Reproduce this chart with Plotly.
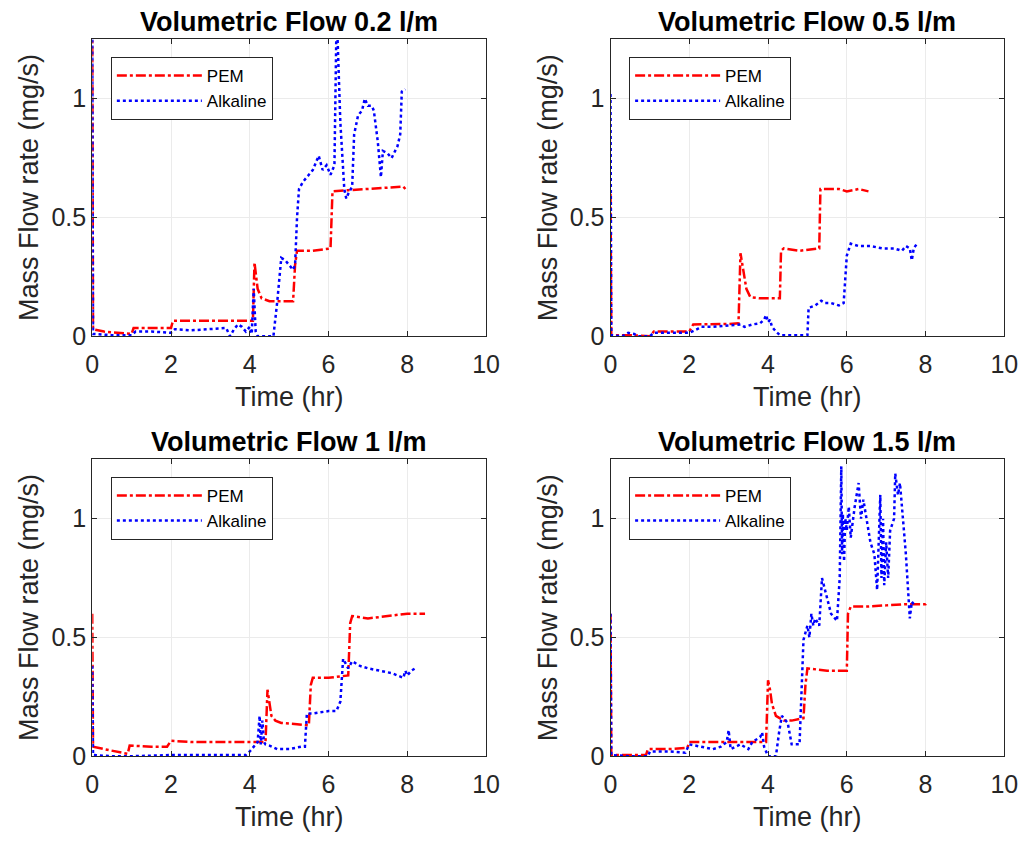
import plotly.graph_objects as go

# ---------------- data ----------------
titles = ["Volumetric Flow 0.2 l/m", "Volumetric Flow 0.5 l/m",
          "Volumetric Flow 1 l/m", "Volumetric Flow 1.5 l/m"]
series_names = ["PEM", "Alkaline"]
x_ticks = [0, 2, 4, 6, 8, 10]
y_ticks = [0, 0.5, 1]
y_tick_labels = ["0", "0.5", "1"]

# 0.2 l/m
t_pem_02 = [0, 0.02, 0.3, 0.6, 1.0, 1.05, 1.5, 2.0, 2.05, 3.0, 4.08, 4.12, 4.15, 4.2, 4.3, 4.5,
            5.1, 5.15, 5.2, 5.6, 6.05, 6.1, 6.5, 7.0, 7.5, 7.9, 7.95]
y_pem_02 = [1.3, 0.03, 0.02, 0.015, 0.01, 0.035, 0.035, 0.035, 0.066, 0.066, 0.066, 0.31, 0.27, 0.2,
            0.16, 0.148, 0.148, 0.3, 0.36, 0.36, 0.37, 0.61, 0.615, 0.62, 0.625, 0.63, 0.62]
t_alk_02 = [0, 0.02, 0.5, 1.0, 1.1, 1.5, 2.0, 2.1, 2.5, 3.0, 3.4, 3.5, 3.6, 3.7, 3.8, 3.9, 4.0,
            4.05, 4.1, 4.15, 4.2, 4.6, 4.7, 4.8, 4.9, 5.0, 5.1, 5.15, 5.2, 5.25, 5.35, 5.5, 5.6,
            5.7, 5.75, 5.85, 5.95, 6.05, 6.15, 6.2, 6.22, 6.3, 6.4, 6.45, 6.5, 6.6, 6.65, 6.75,
            6.85, 6.92, 7.0, 7.1, 7.15, 7.25, 7.33, 7.38, 7.5, 7.6, 7.75, 7.82, 7.86, 7.95]
y_alk_02 = [1.3, 0.01, 0.005, 0.005, 0.02, 0.02, 0.015, 0.03, 0.025, 0.03, 0.035, 0.0, 0.03, 0.05,
            0.04, 0.02, 0.04, 0.01, 0.2, 0.02, 0.0, 0.0, 0.15, 0.33, 0.32, 0.3, 0.28, 0.3, 0.5,
            0.62, 0.65, 0.68, 0.7, 0.74, 0.76, 0.7, 0.72, 0.68, 0.72, 1.3, 1.3, 0.9, 0.62, 0.58,
            0.6, 0.63, 0.85, 0.93, 0.95, 1.0, 0.97, 0.97, 0.95, 0.82, 0.67, 0.78, 0.77, 0.75, 0.8,
            0.85, 1.03, 1.04]

# 0.5 l/m
t_pem_05 = [0, 0.02, 0.5, 1.0, 1.1, 1.5, 2.0, 2.1, 2.5, 3.0, 3.25, 3.3, 3.35, 3.45, 3.55, 3.8,
            4.3, 4.33, 4.4, 4.8, 5.3, 5.33, 5.4, 5.8, 6.0, 6.3, 6.55]
y_pem_05 = [0.6, 0.005, 0.005, 0.0, 0.02, 0.02, 0.02, 0.05, 0.05, 0.052, 0.055, 0.35, 0.3, 0.2,
            0.165, 0.16, 0.16, 0.36, 0.37, 0.36, 0.37, 0.62, 0.62, 0.62, 0.61, 0.62, 0.61]
t_alk_05 = [0, 0.02, 0.3, 0.45, 0.6, 0.7, 1.0, 1.1, 1.5, 2.0, 2.2, 2.3, 2.6, 3.0, 3.3, 3.4, 3.6,
            3.8, 3.9, 3.95, 4.0, 4.05, 4.1, 4.2, 4.3, 4.6, 5.0, 5.03, 5.2, 5.35, 5.45, 5.6, 5.8,
            5.92, 6.0, 6.1, 6.3, 6.6, 6.9, 7.2, 7.4, 7.5, 7.6, 7.65, 7.7, 7.78]
y_alk_05 = [1.02, 0.005, 0.0, 0.015, 0.01, 0.0, 0.0, 0.015, 0.015, 0.015, 0.03, 0.04, 0.04, 0.045,
            0.05, 0.04, 0.05, 0.055, 0.07, 0.09, 0.06, 0.07, 0.04, 0.02, 0.005, 0.005, 0.005,
            0.12, 0.13, 0.15, 0.14, 0.14, 0.13, 0.14, 0.34, 0.39, 0.38, 0.38, 0.37, 0.37, 0.36,
            0.38, 0.37, 0.32, 0.37, 0.39]

# 1 l/m
t_pem_1 = [0, 0.02, 0.3, 0.6, 0.9, 0.95, 1.5, 1.9, 2.0, 2.5, 3.0, 4.4, 4.45, 4.5, 4.55, 4.65,
           4.8, 5.2, 5.5, 5.55, 5.6, 6.0, 6.5, 6.55, 6.6, 7.0, 7.5, 8.0, 8.45]
y_pem_1 = [0.6, 0.04, 0.03, 0.02, 0.01, 0.045, 0.04, 0.04, 0.065, 0.06, 0.06, 0.06, 0.28, 0.22,
           0.17, 0.15, 0.14, 0.135, 0.13, 0.3, 0.33, 0.33, 0.34, 0.56, 0.59, 0.58, 0.59, 0.6, 0.6]
t_alk_1 = [0, 0.02, 0.5, 1.0, 2.0, 3.0, 3.9, 4.0, 4.1, 4.2, 4.25, 4.28, 4.32, 4.36, 4.4, 4.5,
           4.7, 5.0, 5.3, 5.4, 5.45, 5.6, 6.0, 6.2, 6.3, 6.37, 6.5, 6.6, 6.8, 7.0, 7.3, 7.6, 7.9,
           7.95, 8.0, 8.1, 8.2]
y_alk_1 = [0.38, 0.005, 0.0, 0.0, 0.005, 0.005, 0.005, 0.02, 0.04, 0.06, 0.17, 0.05, 0.15, 0.06,
           0.05, 0.045, 0.03, 0.03, 0.04, 0.04, 0.18, 0.18, 0.19, 0.19, 0.23, 0.41, 0.37, 0.4,
           0.38, 0.37, 0.36, 0.35, 0.33, 0.36, 0.34, 0.36, 0.37]

# 1.5 l/m
t_pem_15 = [0, 0.02, 0.5, 0.9, 0.95, 1.5, 1.95, 2.0, 3.0, 3.95, 4.0, 4.05, 4.1, 4.2, 4.4, 4.6,
            4.9, 4.95, 5.0, 5.5, 6.0, 6.03, 6.1, 6.5, 7.0, 7.5, 8.0, 8.05]
y_pem_15 = [0.6, 0.005, 0.005, 0.005, 0.03, 0.03, 0.035, 0.06, 0.06, 0.06, 0.32, 0.28, 0.22,
            0.17, 0.15, 0.15, 0.16, 0.3, 0.37, 0.36, 0.36, 0.6, 0.63, 0.63, 0.635, 0.64, 0.64, 0.65]
t_alk_15 = [0, 0.02, 0.5, 0.95, 1.0, 1.5, 1.9, 2.0, 2.3, 2.6, 2.8, 2.95, 3.0, 3.05, 3.3, 3.5,
            3.6, 3.8, 3.85, 3.9, 4.0, 4.2, 4.28, 4.35, 4.5, 4.6, 4.8, 4.85, 4.9, 5.0, 5.05, 5.1,
            5.15, 5.2, 5.3, 5.37, 5.45, 5.6, 5.75, 5.82, 5.86, 5.88, 5.9, 5.93, 5.96, 6.0, 6.05,
            6.1, 6.2, 6.3, 6.36, 6.42, 6.5, 6.6, 6.7, 6.77, 6.8, 6.85, 6.88, 6.92, 6.95, 7.0,
            7.05, 7.1, 7.2, 7.23, 7.3, 7.35, 7.5, 7.6, 7.65, 7.7]
y_alk_15 = [0.6, 0.005, 0.0, 0.0, 0.02, 0.02, 0.015, 0.05, 0.04, 0.03, 0.04, 0.06, 0.11, 0.03,
            0.05, 0.03, 0.06, 0.08, 0.1, 0.04, 0.0, 0.0, 0.1, 0.17, 0.14, 0.05, 0.05, 0.3, 0.49,
            0.55, 0.5, 0.6, 0.55, 0.58, 0.55, 0.75, 0.7, 0.6, 0.57, 0.75, 1.22, 0.85, 1.02, 0.82,
            1.0, 0.95, 1.05, 0.92, 1.05, 1.15, 1.0, 1.08, 1.0, 0.9, 0.85, 0.7, 0.85, 1.1, 0.75,
            1.0, 0.72, 0.9, 0.75, 0.95, 1.0, 1.19, 1.1, 1.15, 0.85, 0.58, 0.65, 0.64]

panels = [
    (t_pem_02, y_pem_02, t_alk_02, y_alk_02),
    (t_pem_05, y_pem_05, t_alk_05, y_alk_05),
    (t_pem_1, y_pem_1, t_alk_1, y_alk_1),
    (t_pem_15, y_pem_15, t_alk_15, y_alk_15),
]

# ---------------- layout geometry ----------------
W, H = 1035, 844
x_doms = [(87 / W, 489 / W), (616 / W, 1018 / W)]
y_doms = [(1 - 342 / H, 1 - 40 / H), (1 - 769 / H, 1 - 467 / H)]
FONT = "Liberation Sans, Arial, Helvetica, sans-serif"
INK = "#262626"

fig = go.Figure()
annotations = []
layout = dict(width=W, height=H, margin=dict(l=0, r=0, t=0, b=0),
              paper_bgcolor="white", plot_bgcolor="white",
              font=dict(family=FONT, color=INK), showlegend=True)

for i, (tp, yp, ta, ya) in enumerate(panels):
    r, c = divmod(i, 2)
    n = i + 1
    xa = "x" if n == 1 else f"x{n}"
    ya_ = "y" if n == 1 else f"y{n}"
    lg = "legend" if n == 1 else f"legend{n}"
    fig.add_trace(go.Scatter(x=tp, y=yp, mode="lines", name=series_names[0],
                             line=dict(color="#ff0000", width=2.5, dash="10px,3px,3px,3px"),
                             xaxis=xa, yaxis=ya_, legend=lg))
    fig.add_trace(go.Scatter(x=ta, y=ya, mode="lines", name=series_names[1],
                             line=dict(color="#0000ff", width=2.5, dash="dot"),
                             xaxis=xa, yaxis=ya_, legend=lg))
    axcommon = dict(showline=True, linecolor=INK, linewidth=1, mirror="ticks",
                    ticks="inside", ticklen=5, tickcolor=INK, showgrid=True,
                    gridcolor="#ebebeb", gridwidth=1, zeroline=False,
                    tickfont=dict(size=25, family=FONT, color=INK))
    layout["xaxis" if n == 1 else f"xaxis{n}"] = dict(
        axcommon, domain=list(x_doms[c]), range=[0, 10], tickvals=x_ticks,
        anchor=ya_, ticklabelstandoff=6)
    layout["yaxis" if n == 1 else f"yaxis{n}"] = dict(
        axcommon, domain=list(y_doms[r]), range=[0, 1.25], tickvals=y_ticks,
        ticktext=y_tick_labels, anchor=xa)
    x0, x1 = x_doms[c]
    y0, y1 = y_doms[r]
    xc = (x0 + x1) / 2
    annotations.append(dict(text=f"<b>{titles[i]}</b>", x=xc, y=y1, xref="paper", yref="paper",
                            xanchor="center", yanchor="bottom", yshift=0, showarrow=False,
                            font=dict(size=27, family=FONT, color="black")))
    annotations.append(dict(text="Time (hr)", x=xc, y=y0, xref="paper", yref="paper",
                            xanchor="center", yanchor="top", yshift=-44, showarrow=False,
                            font=dict(size=27, family=FONT, color=INK)))
    annotations.append(dict(text="Mass Flow rate (mg/s)", x=x0, y=(y0 + y1) / 2,
                            xref="paper", yref="paper", xanchor="right", yanchor="middle",
                            xshift=-46, textangle=-90, showarrow=False,
                            font=dict(size=27, family=FONT, color=INK)))
    layout[lg] = dict(x=x0 + 19 / W, y=y1 - 18 / H, xanchor="left", yanchor="top",
                      bgcolor="white", bordercolor=INK, borderwidth=1,
                      font=dict(size=17, family=FONT, color="black"),
                      itemwidth=85, tracegroupgap=0)

layout["annotations"] = annotations
fig.update_layout(**layout)
fig.write_html("out.html")
